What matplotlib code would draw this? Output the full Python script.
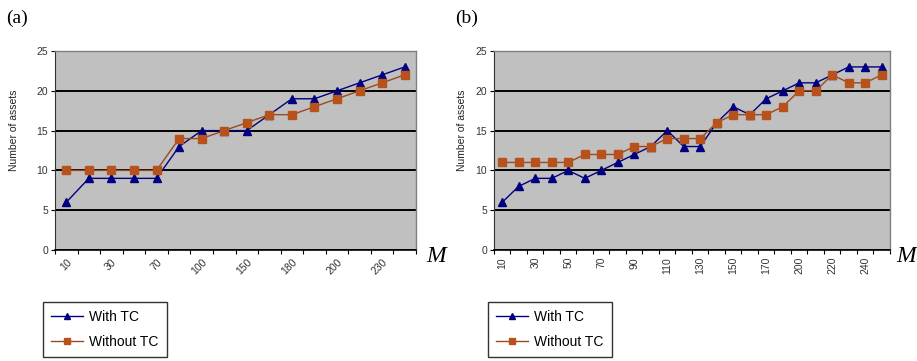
import numpy as np
import matplotlib
matplotlib.use("Agg")
import matplotlib.pyplot as plt
from matplotlib.lines import Line2D

plt.rcParams["font.family"] = ["Liberation Sans", "DejaVu Sans"]

# panel (a): 16 values of M, every other one labelled
M_a = ["10", "20", "30", "50", "70", "85", "100", "115",
       "150", "165", "180", "190", "200", "215", "230", "250"]
with_tc_a = [6, 9, 9, 9, 9, 13, 15, 15, 15, 17, 19, 19, 20, 21, 22, 23]
without_tc_a = [10, 10, 10, 10, 10, 14, 14, 15, 16, 17, 17, 18, 19, 20, 21, 22]

# panel (b): 24 values of M, every other one labelled
M_b = ["10", "20", "30", "40", "50", "60", "70", "80", "90", "100", "110", "120",
       "130", "140", "150", "160", "170", "190", "200", "210", "220", "230", "240", "250"]
with_tc_b = [6, 8, 9, 9, 10, 9, 10, 11, 12, 13, 15, 13,
             13, 16, 18, 17, 19, 20, 21, 21, 22, 23, 23, 23]
without_tc_b = [11, 11, 11, 11, 11, 12, 12, 12, 13, 13, 14, 14,
                14, 16, 17, 17, 17, 18, 20, 20, 22, 21, 21, 22]

BLUE = "#000080"
ORANGE = "#b8521c"
ORANGE_LINE = "#9a4a1e"
W, H = 917, 361

fig = plt.figure(figsize=(W / 100, H / 100), dpi=100)


def axes_px(x0, y0, x1, y1):
    return fig.add_axes([x0 / W, 1 - y1 / H, (x1 - x0) / W, (y1 - y0) / H])


def panel(ax, cats, s1, s2, rot, tag, tag_x, lab_x, m_x, leg_x):
    n = len(cats)
    x = np.arange(n)
    ax.set_facecolor("#c0c0c0")
    ax.plot(x, s1, color=BLUE, lw=1.0, marker="^", ms=6, mfc=BLUE, mec=BLUE, zorder=3)
    ax.plot(x, s2, color=ORANGE_LINE, lw=1.0, marker="s", ms=5.5, mfc=ORANGE, mec=ORANGE, zorder=4)
    ax.set_xlim(-0.5, n - 0.5)
    ax.set_ylim(0, 25)
    ax.set_yticks(range(0, 26, 5))
    ax.yaxis.grid(True, color="black", lw=1.4)
    ax.set_axisbelow(True)
    ax.set_xticks(x[::2])
    if rot == 45:
        ax.set_xticklabels(cats[::2], rotation=45, ha="right", va="top",
                           rotation_mode="anchor", fontsize=7.5, color="#333333")
    else:
        ax.set_xticklabels(cats[::2], rotation=90, ha="center", va="top",
                           fontsize=7.5, color="#333333")
    ax.set_xticks(np.arange(n + 1) - 0.5, minor=True)
    ax.tick_params(axis="x", which="major", length=0, pad=5)
    ax.tick_params(axis="x", which="minor", length=3, width=0.8, direction="out")
    ax.tick_params(axis="y", length=3, width=0.8, labelsize=7.5, labelcolor="#333333", pad=2)
    for s in ("top", "right"):
        ax.spines[s].set_color("#808080")
        ax.spines[s].set_linewidth(1.0)
    ax.spines["left"].set_color("#333333")
    ax.spines["bottom"].set_color("black")
    ax.spines["bottom"].set_linewidth(1.2)
    ax.set_ylabel("Number of assets", fontsize=7.5, color="#222222")
    ax.yaxis.set_label_coords(lab_x, 0.6)

    fig.text(tag_x / W, 1 - 18 / H, tag, family="Liberation Serif", fontsize=14,
             va="center", ha="left")
    fig.text(m_x / W, 1 - 256 / H, "M", family="Liberation Serif", style="italic",
             fontsize=17, va="center", ha="left")

    handles = [Line2D([], [], color=BLUE, lw=1.0, marker="^", ms=5, mfc=BLUE, mec=BLUE),
               Line2D([], [], color=ORANGE_LINE, lw=1.0, marker="s", ms=4.5, mfc=ORANGE, mec=ORANGE)]
    leg = fig.legend(handles, ["With TC", "Without TC"], loc="upper left",
                     bbox_to_anchor=(leg_x / W, 1 - 302 / H), fontsize=10,
                     frameon=True, fancybox=False, edgecolor="black",
                     handlelength=2.3, handletextpad=0.4, borderpad=0.6,
                     labelspacing=0.75, borderaxespad=0)
    leg.get_frame().set_linewidth(1.0)


ax_a = axes_px(55, 51, 416, 250)
panel(ax_a, M_a, with_tc_a, without_tc_a, 45, "(a)", 6, -0.10, 426, 43)

ax_b = axes_px(494, 51, 890, 250)
panel(ax_b, M_b, with_tc_b, without_tc_b, 90, "(b)", 455, -0.068, 896, 488)

fig.savefig("out.png", dpi=100, facecolor="white")
